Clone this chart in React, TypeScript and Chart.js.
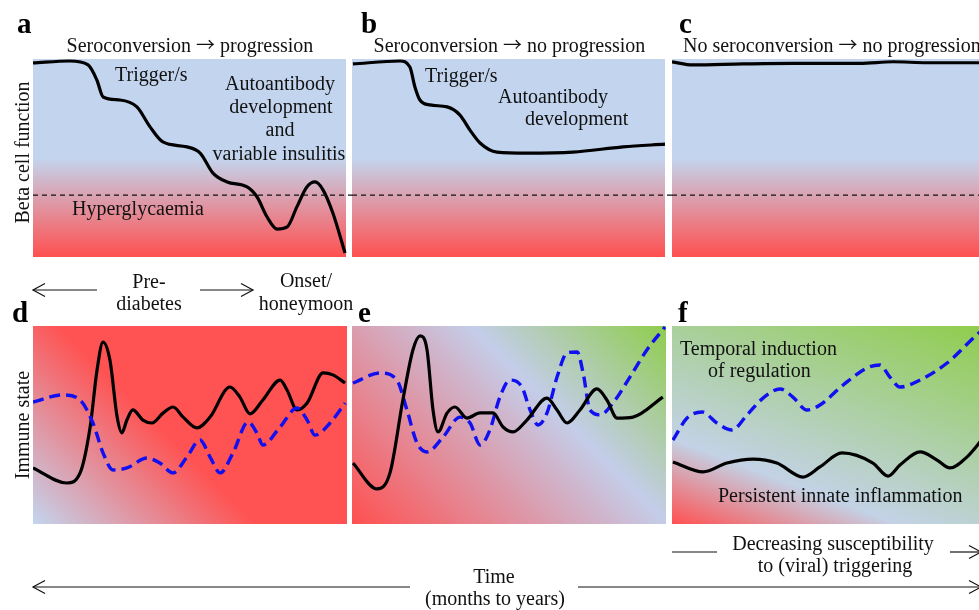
import React, { useEffect, useRef } from "react";
import { Chart, registerables } from "chart.js";

Chart.register(...registerables);

// ---- Data (time in % of panel span, state in % of panel range) ----
const hyperglycaemiaThreshold = 31.3;

const aTime = [0, 11.8, 17.6, 20.4, 22.4, 27.8, 33.2, 37.4, 41.5, 49.2, 53.4, 57.5, 62, 68.4, 71.6, 74.8, 78, 81.2, 84.3, 87.5, 90.1, 92.7, 95.8, 99.7];
const aBeta = [98, 99, 97, 89.4, 80.8, 79.3, 75.8, 65.7, 58.1, 55.6, 52.5, 42.4, 37.9, 35.4, 30.3, 20.2, 14.1, 15.2, 25.3, 35.4, 37.9, 33.8, 22.2, 2];

const bTime = [0.3, 15.3, 18.5, 20.1, 21.7, 24.9, 30.4, 34.5, 37.7, 40.9, 46.3, 55.9, 70.6, 86.6, 100];
const bBeta = [97.5, 99, 96, 85.9, 79.3, 76.8, 75.8, 71.7, 64.1, 57.6, 53, 52.5, 53, 55.6, 57];

const cTime = [0, 6.7, 22.7, 38.7, 60, 70.6, 81.5, 100];
const cBeta = [98.6, 97, 97.5, 97.8, 97.8, 98.6, 98.1, 98.1];

const dTime = [0, 10.8, 15, 18.2, 20.4, 22.3, 24.5, 26.8, 28.3, 29.9, 31.8, 35, 37.9, 41.4, 44.6, 47.8, 52.2, 56.4, 62.7, 65.9, 69.1, 73.2, 78.7, 80.9, 84.1, 87.3, 92.4, 95.5, 99.4];
const dInnate = [28.3, 20.7, 25.8, 49, 77.8, 91.9, 82.8, 54, 46, 52.5, 57.6, 52.5, 51, 56, 59.1, 54, 48.5, 54, 69.2, 64.1, 55.6, 62.6, 72.7, 67.7, 57.6, 61.1, 76.3, 75.3, 71.2];
const dRegTime = [0, 9.6, 15, 19.1, 22.3, 25.5, 29.9, 36.3, 40.4, 44.6, 49, 53.2, 56.4, 59.6, 63.7, 68.5, 71.3, 73.2, 78.7, 84.1, 87.3, 89.8, 94.6, 99.4];
const dRegulation = [61.6, 65.2, 62.6, 51, 35.9, 27.3, 28.3, 33.3, 30.8, 25.8, 33.8, 42.4, 33.8, 25.8, 35.9, 51.5, 46, 39.9, 49, 58.6, 52.5, 44.9, 51, 61.1];

const eTime = [0.3, 8, 12.1, 16.2, 19.4, 21.7, 23.9, 25.8, 27.4, 30.3, 32.8, 36.6, 40.8, 44.9, 48.1, 51.3, 55.7, 62.1, 65.3, 68.5, 72.6, 78, 81.2, 84.4, 89.5, 99];
const eInnate = [30.8, 17.7, 25.8, 62.6, 87.9, 95, 87.9, 57.6, 46.5, 56.1, 59.1, 53.5, 56.1, 56.1, 49, 46.5, 52.5, 63.6, 57.6, 51, 57.6, 68.2, 62.6, 53.5, 54, 64.1];
const eRegTime = [0.3, 8.9, 14.3, 17.5, 20.7, 23.9, 29, 34.4, 37.6, 40.8, 43.9, 47.1, 50.3, 54.1, 56.7, 59.2, 62.1, 65.3, 68.5, 71.7, 73.6, 75.8, 79, 83.1, 88.5, 93.9, 99.7];
const eRegulation = [71.2, 76.3, 72.7, 57.6, 40.9, 36.4, 43.9, 54, 51, 39.9, 47.5, 64.1, 72.7, 69.2, 57.6, 50, 56.1, 74.2, 86.4, 86.9, 76.3, 57.6, 55.1, 61.1, 74.2, 87.9, 99.5];

const fTime = [0.3, 9.9, 17.5, 25.8, 33.4, 41.7, 47.1, 54.1, 64, 68.8, 72.6, 79, 84.4, 88.5, 93.9, 97.8, 99.7];
const fInnate = [31.3, 26.3, 30.8, 32.8, 30.8, 23.7, 28.8, 35.9, 30.8, 24.2, 29.8, 36.4, 32.3, 28.3, 33.8, 40.9, 45];
const fRegTime = [0.3, 4.8, 9.6, 14.3, 19.1, 23.9, 29, 34.4, 38.5, 43, 47.1, 54.5, 62.1, 66.2, 69.4, 72.6, 79, 87.6, 97.8, 100];
const fRegulation = [42.4, 53.5, 56.6, 51, 47.5, 55.1, 63.6, 68.2, 64.1, 57.6, 60.1, 70.2, 78.8, 80.3, 74.2, 69.2, 72.7, 81.3, 96.5, 99];

// ---- Styling ----
const BLUE_BG = "#c3d5ee";
const RED_BG = "#ff5050";
const GREEN_BG = "#8fcd4c";
const FONT = "'Liberation Serif', 'Times New Roman', 'DejaVu Serif', serif";

const bgPlugin = {
  id: "panelBg",
  beforeDraw(chart: any, _args: any, opts: any) {
    const { ctx, chartArea } = chart;
    if (!chartArea) return;
    const { left, top, right, bottom } = chartArea;
    let g: CanvasGradient;
    if (opts.kind === "beta") {
      g = ctx.createLinearGradient(0, top, 0, bottom);
      g.addColorStop(0, BLUE_BG);
      g.addColorStop(0.5, BLUE_BG);
      g.addColorStop(1, RED_BG);
    } else if (opts.kind === "prog") {
      g = ctx.createLinearGradient(left, bottom, left + 200, bottom - 200);
      g.addColorStop(0, BLUE_BG);
      g.addColorStop(0.56, "#ff5252");
      g.addColorStop(1, "#ff5252");
    } else if (opts.kind === "mixed") {
      g = ctx.createLinearGradient(left, bottom, left + 256, bottom - 256);
      g.addColorStop(0, RED_BG);
      g.addColorStop(0.62, "#c4cde9");
      g.addColorStop(1, GREEN_BG);
    } else {
      g = ctx.createLinearGradient(left, bottom, left + 105, bottom - 277);
      g.addColorStop(0, RED_BG);
      g.addColorStop(0.27, "#c3d2e6");
      g.addColorStop(1, GREEN_BG);
    }
    ctx.save();
    ctx.fillStyle = g;
    ctx.fillRect(left, top, right - left, bottom - top);
    ctx.restore();
  },
};

type Series = { x: number[]; y: number[]; color: string; width: number; dash?: number[] };

function toPoints(x: number[], y: number[]) {
  return x.map((v, i) => ({ x: v, y: y[i] }));
}

function Panel(props: { left: number; top: number; width: number; height: number; padRight: number; kind: string; series: Series[] }) {
  const ref = useRef<HTMLCanvasElement | null>(null);
  useEffect(() => {
    const canvas = ref.current;
    if (!canvas) return;
    const chart = new Chart(canvas, {
      type: "line",
      data: {
        datasets: props.series.map((s) => ({
          data: toPoints(s.x, s.y),
          borderColor: s.color,
          borderWidth: s.width,
          borderDash: s.dash || [],
          pointRadius: 0,
          fill: false,
          tension: 0.4,
          cubicInterpolationMode: "monotone",
          clip: false,
          borderCapStyle: "butt",
        })),
      } as any,
      options: {
        animation: false,
        responsive: false,
        events: [],
        layout: { padding: { left: 0, right: props.padRight, top: 0, bottom: 0 } },
        plugins: {
          legend: { display: false },
          tooltip: { enabled: false },
          panelBg: { kind: props.kind },
        } as any,
        scales: {
          x: { type: "linear", min: 0, max: 100, display: false },
          y: { type: "linear", min: 0, max: 100, display: false },
        },
      },
      plugins: [bgPlugin],
    });
    return () => chart.destroy();
  }, []);
  return (
    <canvas
      ref={ref}
      width={props.width}
      height={props.height}
      style={{ position: "absolute", left: props.left, top: props.top, width: props.width, height: props.height }}
    />
  );
}

const threshold = (to: number): Series => ({
  x: [0, to],
  y: [hyperglycaemiaThreshold, hyperglycaemiaThreshold],
  color: "#111",
  width: 1.2,
  dash: [5, 4],
});

function ArrowHead({ x, y, dir }: { x: number; y: number; dir: number }) {
  return <polyline points={`${x - dir * 12},${y - 6.5} ${x},${y} ${x - dir * 12},${y + 6.5}`} fill="none" stroke="#111" strokeWidth={1.2} />;
}

const ARROW_STYLE = { fontFamily: "'Noto Sans CJK JP', 'DejaVu Sans', sans-serif", fontSize: 19 } as any;

export default function App() {
  const t = { fontFamily: FONT, fontSize: 20, fill: "#111" } as any;
  const bold = { fontFamily: FONT, fontSize: 29, fontWeight: "bold", fill: "#000" } as any;
  return (
    <div style={{ position: "fixed", left: 0, top: 0, width: 979, height: 610, overflow: "hidden", background: "#fff" }}>
      <Panel left={33} top={59} width={319} height={198} padRight={6} kind="beta"
        series={[threshold(102), { x: aTime, y: aBeta, color: "#000", width: 3.2 }]} />
      <Panel left={352} top={59} width={320} height={198} padRight={7} kind="beta"
        series={[threshold(102.3), { x: bTime, y: bBeta, color: "#000", width: 3.2 }]} />
      <Panel left={672} top={59} width={313} height={198} padRight={0} kind="beta"
        series={[threshold(100), { x: cTime, y: cBeta, color: "#000", width: 3.2 }]} />

      <Panel left={33} top={326} width={314} height={198} padRight={0} kind="prog"
        series={[
          { x: dRegTime, y: dRegulation, color: "#1010f0", width: 3.4, dash: [11, 6] },
          { x: dTime, y: dInnate, color: "#000", width: 3.2 },
        ]} />
      <Panel left={352} top={326} width={314} height={198} padRight={0} kind="mixed"
        series={[
          { x: eTime, y: eInnate, color: "#000", width: 3.2 },
          { x: eRegTime, y: eRegulation, color: "#1010f0", width: 3.4, dash: [11, 6] },
        ]} />
      <Panel left={672} top={326} width={314} height={198} padRight={0} kind="reg"
        series={[
          { x: fTime, y: fInnate, color: "#000", width: 3.2 },
          { x: fRegTime, y: fRegulation, color: "#1010f0", width: 3.4, dash: [11, 6] },
        ]} />

      <svg width={979} height={610} style={{ position: "absolute", left: 0, top: 0, pointerEvents: "none" }}>
        <text x={17} y={33} {...bold}>a</text>
        <text x={361} y={33} {...bold}>b</text>
        <text x={679} y={33} {...bold}>c</text>
        <text x={12} y={322} {...bold}>d</text>
        <text x={358} y={322} {...bold}>e</text>
        <text x={678} y={322} {...bold}>f</text>

        <text x={190} y={52} textAnchor="middle" {...t}>Seroconversion <tspan {...ARROW_STYLE}>→</tspan> progression</text>
        <text x={509.5} y={52} textAnchor="middle" {...t}>Seroconversion <tspan {...ARROW_STYLE}>→</tspan> no progression</text>
        <text x={683} y={52} {...t}>No seroconversion <tspan {...ARROW_STYLE}>→</tspan> no progression</text>

        <text x={115} y={81} {...t}>Trigger/s</text>
        <text x={280} y={90} textAnchor="middle" {...t}>Autoantibody</text>
        <text x={281} y={113} textAnchor="middle" {...t}>development</text>
        <text x={280} y={136} textAnchor="middle" {...t}>and</text>
        <text x={279} y={160} textAnchor="middle" {...t}>variable insulitis</text>
        <text x={72} y={215} {...t}>Hyperglycaemia</text>
        <text transform="translate(29,152.5) rotate(-90)" textAnchor="middle" {...t}>Beta cell function</text>

        <text x={425} y={82} {...t}>Trigger/s</text>
        <text x={498} y={103} {...t}>Autoantibody</text>
        <text x={525} y={125} {...t}>development</text>

        <line x1={33} y1={290} x2={97} y2={290} stroke="#111" strokeWidth={1.2} />
        <ArrowHead x={33} y={290} dir={-1} />
        <line x1={200} y1={290} x2={253} y2={290} stroke="#111" strokeWidth={1.2} />
        <ArrowHead x={253} y={290} dir={1} />
        <text x={149} y={288} textAnchor="middle" {...t}>Pre-</text>
        <text x={149} y={310} textAnchor="middle" {...t}>diabetes</text>
        <text x={306} y={287} textAnchor="middle" {...t}>Onset/</text>
        <text x={306} y={310} textAnchor="middle" {...t}>honeymoon</text>

        <text transform="translate(29,425) rotate(-90)" textAnchor="middle" {...t}>Immune state</text>

        <text x={680} y={355} {...t}>Temporal induction</text>
        <text x={708} y={377} {...t}>of regulation</text>
        <text x={718} y={502} {...t}>Persistent innate inflammation</text>

        <line x1={672} y1={552} x2={717} y2={552} stroke="#111" strokeWidth={1.2} />
        <line x1={950} y1={552} x2={981} y2={552} stroke="#111" strokeWidth={1.2} />
        <ArrowHead x={981} y={552} dir={1} />
        <text x={833} y={550} textAnchor="middle" {...t}>Decreasing susceptibility</text>
        <text x={835} y={572} textAnchor="middle" {...t}>to (viral) triggering</text>

        <line x1={33} y1={587} x2={410} y2={587} stroke="#111" strokeWidth={1.2} />
        <ArrowHead x={33} y={587} dir={-1} />
        <line x1={578} y1={587} x2={981} y2={587} stroke="#111" strokeWidth={1.2} />
        <ArrowHead x={981} y={587} dir={1} />
        <text x={494} y={583} textAnchor="middle" {...t}>Time</text>
        <text x={495} y={605} textAnchor="middle" {...t}>(months to years)</text>
      </svg>
    </div>
  );
}
